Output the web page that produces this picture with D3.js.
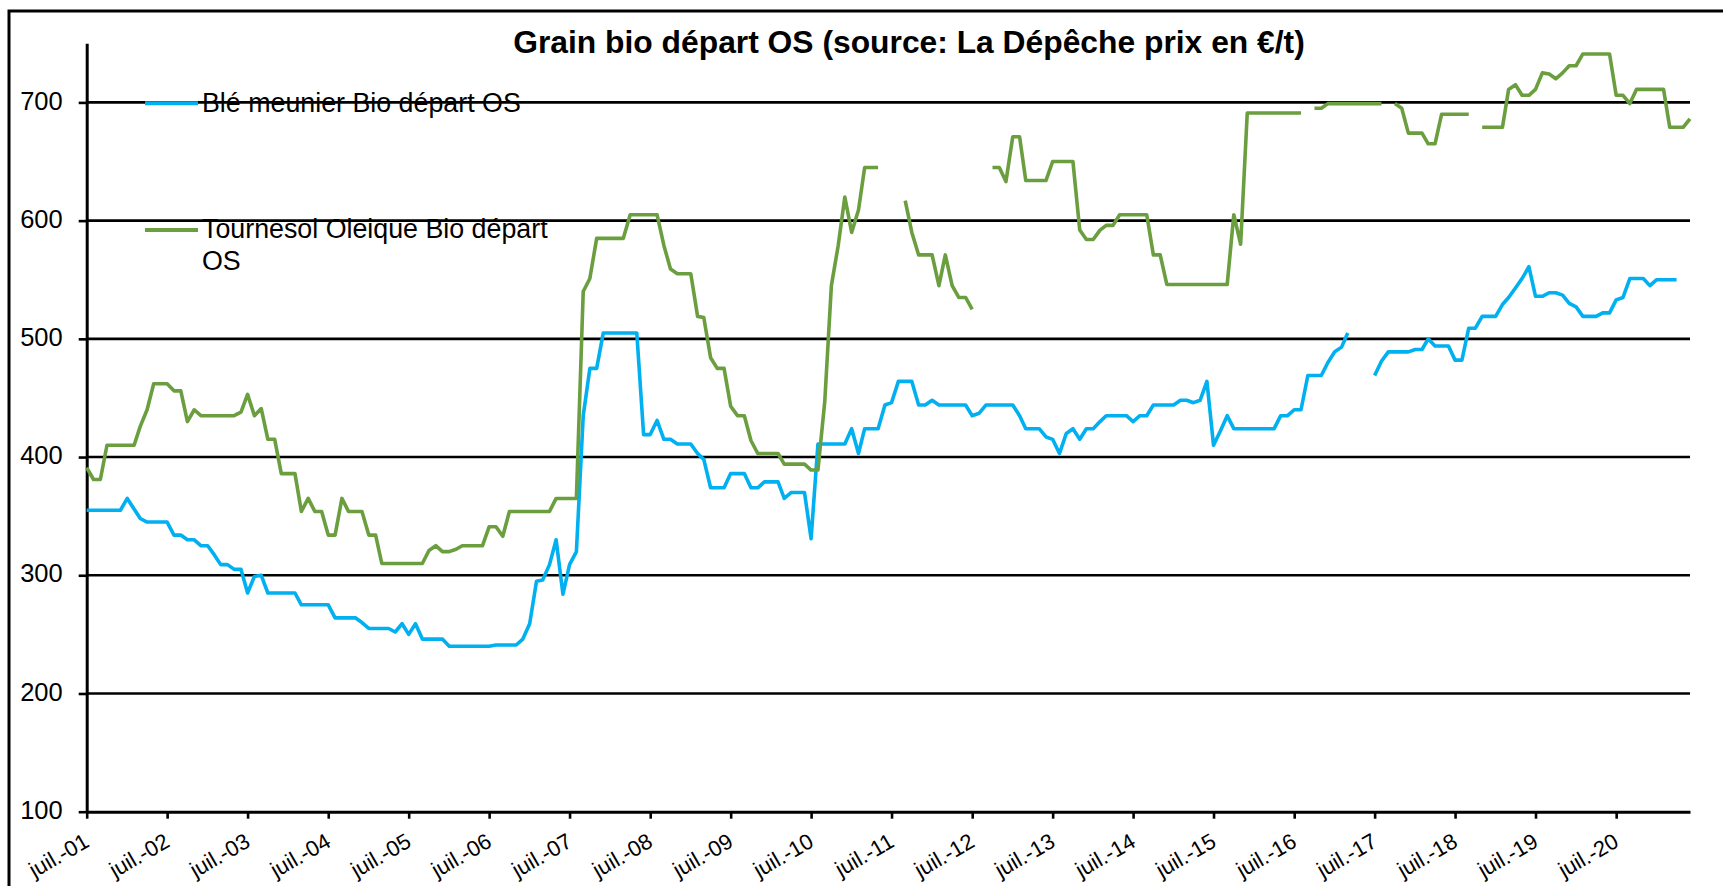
<!DOCTYPE html>
<html>
<head>
<meta charset="utf-8">
<script src="https://cdn.jsdelivr.net/npm/d3@7"></script>
<style>
  body { margin: 0; background: #fff; overflow: hidden; }
  svg { display: block; font-family: "Liberation Sans", Arial, sans-serif; }
</style>
</head>
<body>
<div id="chart"></div>
<script>
// monthly series, first value = juillet 2001
const startYear = 2001;
const startMonth = 6; // juillet (0-based)

const seriesNames = ['Blé meunier Bio départ OS', 'Tournesol Oleique Bio départ OS'];

const bleMeunier = [
  355, 355, 355, 355, 355, 355, 365, 356, 348, 345, 345, 345,
  345, 334, 334, 330, 330, 325, 325, 317, 309, 309, 305, 305,
  285, 299, 300, 285, 285, 285, 285, 285, 275, 275, 275, 275,
  275, 264, 264, 264, 264, 260, 255, 255, 255, 255, 252, 259,
  250, 259, 246, 246, 246, 246, 240, 240, 240, 240, 240, 240,
  240, 241, 241, 241, 241, 246, 259, 295, 296, 309, 330, 284,
  309, 320, 435, 475, 475, 505, 505, 505, 505, 505, 505, 419,
  419, 431, 415, 415, 411, 411, 411, 403, 398, 374, 374, 374,
  386, 386, 386, 374, 374, 379, 379, 379, 365, 370, 370, 370,
  331, 411, 411, 411, 411, 411, 424, 403, 424, 424, 424, 444,
  446, 464, 464, 464, 444, 444, 448, 444, 444, 444, 444, 444,
  435, 437, 444, 444, 444, 444, 444, 435, 424, 424, 424, 417,
  415, 403, 420, 424, 415, 424, 424, 430, 435, 435, 435, 435,
  430, 435, 435, 444, 444, 444, 444, 448, 448, 446, 448, 464,
  410, 422, 435, 424, 424, 424, 424, 424, 424, 424, 435, 435,
  440, 440, 469, 469, 469, 480, 489, 493, 505, null, null, null,
  469, 481, 489, 489, 489, 489, 491, 491, 500, 494, 494, 494,
  482, 482, 509, 509, 519, 519, 519, 529, 535, 543, 551, 561,
  536, 536, 539, 539, 537, 530, 527, 519, 519, 519, 522, 522,
  533, 535, 551, 551, 551, 545, 550, 550, 550, 550, null, null
];

const tournesol = [
  391, 381, 381, 410, 410, 410, 410, 410, 426, 440, 462, 462,
  462, 456, 456, 430, 440, 435, 435, 435, 435, 435, 435, 438,
  453, 435, 441, 415, 415, 386, 386, 386, 354, 365, 354, 354,
  334, 334, 365, 354, 354, 354, 334, 334, 310, 310, 310, 310,
  310, 310, 310, 321, 325, 320, 320, 322, 325, 325, 325, 325,
  341, 341, 333, 354, 354, 354, 354, 354, 354, 354, 365, 365,
  365, 365, 540, 551, 585, 585, 585, 585, 585, 605, 605, 605,
  605, 605, 579, 559, 555, 555, 555, 519, 518, 484, 475, 475,
  443, 435, 435, 414, 403, 403, 403, 403, 394, 394, 394, 394,
  389, 389, 447, 545, 579, 620, 590, 609, 645, 645, 645, null,
  null, null, 617, 590, 571, 571, 571, 545, 571, 545, 535, 535,
  525, null, null, 645, 645, 633, 671, 671, 634, 634, 634, 634,
  650, 650, 650, 650, 592, 584, 584, 592, 596, 596, 605, 605,
  605, 605, 605, 571, 571, 546, 546, 546, 546, 546, 546, 546,
  546, 546, 546, 605, 580, 691, 691, 691, 691, 691, 691, 691,
  691, 691, null, 695, 695, 699, 699, 699, 699, 699, 699, 699,
  699, 699, null, 699, 695, 674, 674, 674, 665, 665, 690, 690,
  690, 690, 690, null, 679, 679, 679, 679, 711, 715, 706, 706,
  711, 725, 724, 720, 725, 731, 731, 741, 741, 741, 741, 741,
  706, 706, 699, 711, 711, 711, 711, 711, 679, 679, 679, 686
];

const yTicks = [100, 200, 300, 400, 500, 600, 700];
const xTickLabels = ['juil.-01', 'juil.-02', 'juil.-03', 'juil.-04', 'juil.-05', 'juil.-06', 'juil.-07',
  'juil.-08', 'juil.-09', 'juil.-10', 'juil.-11', 'juil.-12', 'juil.-13', 'juil.-14', 'juil.-15',
  'juil.-16', 'juil.-17', 'juil.-18', 'juil.-19', 'juil.-20'];

const colors = ['#00b0f0', '#6a9e3f'];

const svgWidth = 1723;
const svgHeight = 886;
const plot = { left: 86.7, right: 1690, top: 43.3, bottom: 811.7 };

const svg = d3.select('#chart')
  .append('svg')
  .attr('width', svgWidth)
  .attr('height', svgHeight);

svg.append('rect')
  .attr('width', svgWidth)
  .attr('height', svgHeight)
  .attr('fill', '#fff');

// cadre du graphique (sort de l'image à droite et en bas)
svg.append('rect')
  .attr('x', 9)
  .attr('y', 11)
  .attr('width', 1800)
  .attr('height', 1000)
  .attr('fill', 'none')
  .attr('stroke', '#000')
  .attr('stroke-width', 3);

const monthDate = i => new Date(startYear, startMonth + i, 1);
const nMonths = bleMeunier.length;

const xScale = d3.scaleTime()
  .domain([monthDate(0), monthDate(nMonths - 1)])
  .range([plot.left, plot.right]);

const yScale = d3.scaleLinear()
  .domain([100, 750])
  .range([plot.bottom, plot.top]);

// grille horizontale
svg.append('g')
  .selectAll('line')
  .data(yTicks.filter(v => v > 100))
  .join('line')
  .attr('x1', plot.left)
  .attr('x2', plot.right)
  .attr('y1', d => yScale(d))
  .attr('y2', d => yScale(d))
  .attr('stroke', '#000')
  .attr('stroke-width', 2.6);

// axe Y
const yAxis = svg.append('g')
  .attr('transform', `translate(${plot.left},0)`)
  .call(d3.axisLeft(yScale).tickValues(yTicks).tickSize(8).tickPadding(16).tickSizeOuter(0));
yAxis.select('.domain').attr('stroke-width', 3);
yAxis.selectAll('.tick line').attr('stroke-width', 2.6);
yAxis.selectAll('.tick text')
  .attr('font-size', 25.5)
  .attr('font-family', '"Liberation Sans", Arial, sans-serif')
  .attr('fill', '#000')
  .attr('dy', '0.26em');

// axe X
const xTickDates = xTickLabels.map((d, i) => monthDate(i * 12));
const xAxis = svg.append('g')
  .attr('transform', `translate(0,${plot.bottom})`)
  .call(d3.axisBottom(xScale).tickValues(xTickDates).tickSize(7).tickSizeOuter(0)
    .tickFormat((d, i) => xTickLabels[i]));
xAxis.select('.domain').attr('stroke-width', 3);
xAxis.selectAll('.tick line').attr('stroke-width', 2.6);
xAxis.selectAll('.tick text')
  .attr('font-size', 22)
  .attr('font-family', '"Liberation Sans", Arial, sans-serif')
  .attr('fill', '#000')
  .attr('text-anchor', 'end')
  .attr('y', 0)
  .attr('dy', 0)
  .attr('transform', 'translate(3.5,34) rotate(-30)');

// courbes
const line = d3.line()
  .defined(d => d.v !== null)
  .x(d => xScale(d.date))
  .y(d => yScale(d.v));

[bleMeunier, tournesol].forEach((values, k) => {
  const pts = values.map((v, i) => ({ date: monthDate(i), v }));
  svg.append('path')
    .datum(pts)
    .attr('fill', 'none')
    .attr('stroke', colors[k])
    .attr('stroke-width', 3.6)
    .attr('stroke-linejoin', 'round')
    .attr('d', line);
});

// légende
const legend = svg.append('g').attr('font-size', 26.8).attr('fill', '#000');
const legendRows = [
  { y: 103.3, lines: [seriesNames[0]] },
  { y: 230, lines: ['Tournesol Oleique Bio départ', 'OS'] }
];
legendRows.forEach((row, k) => {
  legend.append('line')
    .attr('x1', 145).attr('x2', 198)
    .attr('y1', row.y).attr('y2', row.y)
    .attr('stroke', colors[k])
    .attr('stroke-width', 4);
  const t = legend.append('text')
    .attr('x', 202)
    .attr('y', row.y + 8.4);
  row.lines.forEach((s, j) => {
    t.append('tspan').attr('x', 202).attr('dy', j === 0 ? 0 : 32).text(s);
  });
});

// titre
svg.append('text')
  .attr('x', 909)
  .attr('y', 53.3)
  .attr('text-anchor', 'middle')
  .attr('font-size', 31.8)
  .attr('font-weight', 'bold')
  .text('Grain bio départ OS (source: La Dépêche prix en €/t)');
</script>
</body>
</html>
